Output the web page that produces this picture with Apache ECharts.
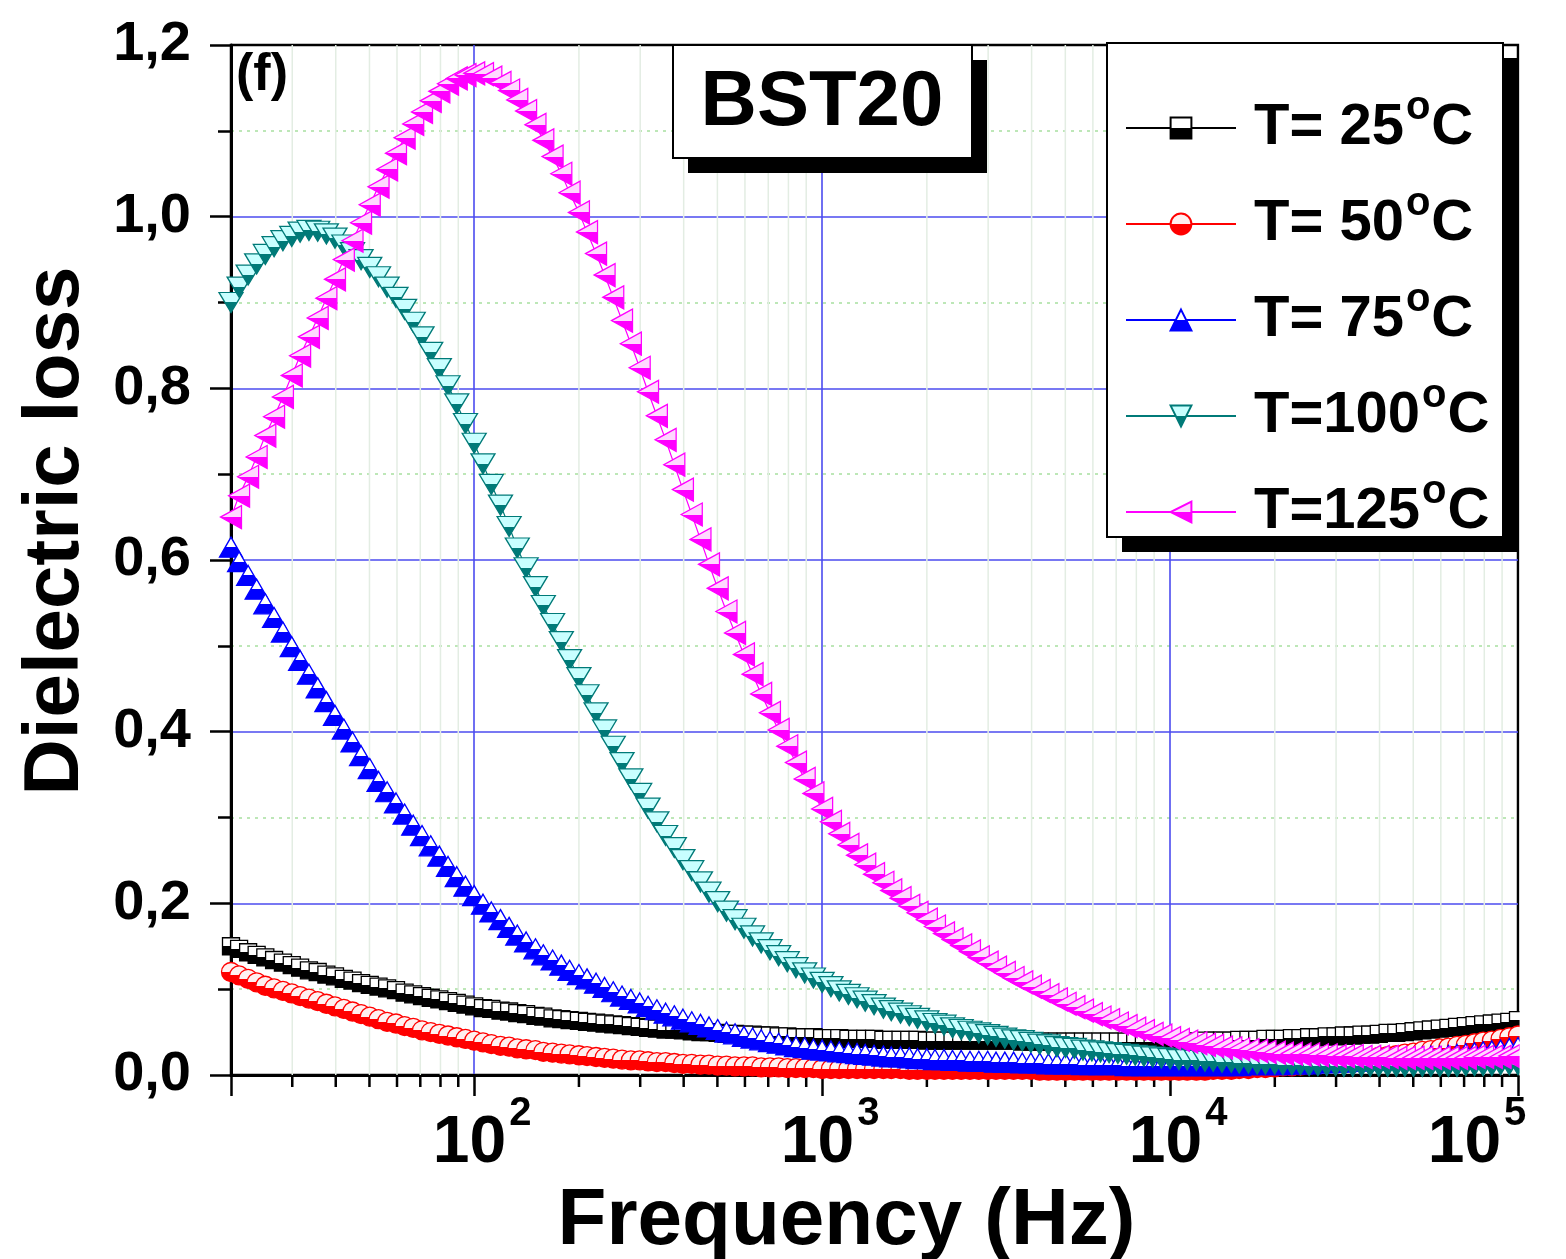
<!DOCTYPE html>
<html>
<head>
<meta charset="utf-8">
<script src="https://cdn.jsdelivr.net/npm/echarts@6/dist/echarts.min.js"></script>
<style>
html,body{margin:0;padding:0;background:#fff;}
#chart{width:1566px;height:1259px;}
</style>
</head>
<body>
<div id="chart"></div>
<script>
// ---------------- data ----------------
const freqHz = [
20,21.1,22.4,23.7,25.1,26.6,28.2,29.9,31.6,33.5,35.5,37.6,39.8,42.2,44.7,47.3,50.1,53.1,56.2,59.6,63.1,66.8,70.8,75,79.4,84.1,89.1,94.4,
100,106,112,119,126,133,141,150,158,168,178,188,200,211,224,237,251,266,282,299,316,335,355,376,398,422,447,473,501,531,562,596,631,668,708,750,794,841,891,944,
1000,1060,1120,1190,1260,1330,1410,1500,1580,1680,1780,1880,2000,2110,2240,2370,2510,2660,2820,2990,3160,3350,3550,3760,3980,4220,4470,4730,5010,5310,5620,5960,6310,6680,7080,7500,7940,8410,8910,9440,
10000,10600,11200,11900,12600,13300,14100,15000,15800,16800,17800,18800,20000,21100,22400,23700,25100,26600,28200,29900,31600,33500,35500,37600,39800,42200,44700,47300,50100,53100,56200,59600,63100,66800,70800,75000,79400,84100,89100,94400,
100000];

const loss25 = [
0.150,0.147,0.143,0.140,0.137,0.134,0.131,0.128,0.125,0.122,
0.120,0.117,0.115,0.112,0.110,0.107,0.105,0.103,0.101,0.099,
0.096,0.094,0.092,0.090,0.088,0.086,0.084,0.082,0.080,0.078,
0.077,0.075,0.074,0.072,0.071,0.069,0.068,0.066,0.065,0.064,
0.063,0.062,0.061,0.060,0.059,0.058,0.057,0.056,0.055,0.054,
0.053,0.053,0.052,0.051,0.050,0.050,0.049,0.048,0.048,0.047,
0.047,0.046,0.046,0.045,0.045,0.044,0.044,0.044,0.043,0.043,
0.043,0.042,0.042,0.042,0.042,0.041,0.041,0.041,0.041,0.041,
0.040,0.040,0.040,0.040,0.040,0.040,0.040,0.040,0.040,0.040,
0.040,0.039,0.039,0.039,0.039,0.039,0.039,0.039,0.039,0.039,
0.039,0.039,0.039,0.039,0.039,0.039,0.039,0.039,0.039,0.039,
0.039,0.039,0.040,0.040,0.040,0.040,0.041,0.041,0.041,0.042,
0.042,0.042,0.043,0.043,0.044,0.044,0.045,0.045,0.046,0.046,
0.047,0.047,0.048,0.049,0.049,0.050,0.051,0.052,0.053,0.054,
0.055,0.056,0.057,0.058,0.059,0.060,0.061,0.062,0.064];

const loss50 = [
0.120,0.116,0.112,0.108,0.104,0.101,0.098,0.095,0.092,0.089,
0.086,0.083,0.080,0.077,0.074,0.071,0.068,0.065,0.062,0.060,
0.057,0.055,0.052,0.050,0.048,0.046,0.044,0.042,0.040,0.038,
0.036,0.034,0.033,0.031,0.030,0.029,0.027,0.026,0.025,0.024,
0.023,0.022,0.021,0.020,0.019,0.018,0.017,0.017,0.016,0.015,
0.015,0.014,0.013,0.013,0.012,0.012,0.011,0.011,0.010,0.010,
0.010,0.009,0.009,0.009,0.008,0.008,0.008,0.008,0.007,0.007,
0.007,0.007,0.007,0.007,0.007,0.007,0.007,0.007,0.006,0.006,
0.006,0.006,0.006,0.006,0.006,0.006,0.006,0.006,0.006,0.006,
0.006,0.006,0.006,0.005,0.005,0.005,0.005,0.005,0.005,0.005,
0.005,0.005,0.005,0.005,0.005,0.005,0.005,0.005,0.005,0.005,
0.005,0.005,0.005,0.006,0.006,0.006,0.007,0.007,0.008,0.008,
0.009,0.010,0.010,0.011,0.012,0.013,0.014,0.015,0.016,0.017,
0.018,0.019,0.021,0.022,0.023,0.025,0.026,0.028,0.029,0.031,
0.032,0.034,0.035,0.037,0.039,0.040,0.042,0.044,0.046];

const loss75 = [
0.615,0.598,0.582,0.566,0.549,0.533,0.516,0.499,0.483,0.467,
0.451,0.435,0.419,0.403,0.388,0.372,0.357,0.342,0.330,0.317,
0.304,0.291,0.279,0.267,0.255,0.243,0.231,0.220,0.209,0.199,
0.190,0.181,0.172,0.163,0.155,0.147,0.140,0.134,0.128,0.122,
0.117,0.112,0.107,0.102,0.097,0.092,0.088,0.084,0.080,0.076,
0.072,0.069,0.065,0.062,0.059,0.056,0.053,0.050,0.048,0.045,
0.043,0.041,0.039,0.037,0.035,0.033,0.032,0.030,0.029,0.028,
0.027,0.026,0.025,0.024,0.023,0.022,0.021,0.021,0.020,0.019,
0.019,0.018,0.018,0.017,0.017,0.016,0.016,0.016,0.015,0.015,
0.015,0.014,0.014,0.014,0.013,0.013,0.013,0.013,0.012,0.012,
0.012,0.012,0.012,0.011,0.011,0.011,0.011,0.011,0.011,0.011,
0.011,0.011,0.011,0.011,0.011,0.011,0.011,0.012,0.012,0.012,
0.012,0.012,0.013,0.013,0.013,0.014,0.014,0.015,0.015,0.016,
0.016,0.017,0.017,0.018,0.019,0.019,0.020,0.021,0.022,0.022,
0.023,0.024,0.025,0.026,0.027,0.028,0.029,0.031,0.032];

const loss100 = [
0.900,0.918,0.932,0.945,0.956,0.965,0.972,0.977,0.982,0.984,
0.983,0.980,0.975,0.967,0.958,0.950,0.941,0.930,0.918,0.906,
0.892,0.877,0.860,0.842,0.823,0.803,0.782,0.759,0.736,0.712,
0.688,0.664,0.639,0.614,0.591,0.569,0.547,0.526,0.505,0.484,
0.463,0.443,0.422,0.402,0.383,0.364,0.345,0.328,0.311,0.295,
0.279,0.265,0.251,0.238,0.225,0.213,0.202,0.191,0.181,0.171,
0.162,0.154,0.146,0.139,0.132,0.125,0.119,0.113,0.108,0.103,
0.098,0.094,0.090,0.086,0.082,0.078,0.075,0.072,0.069,0.066,
0.063,0.060,0.058,0.055,0.053,0.051,0.049,0.047,0.045,0.043,
0.041,0.040,0.038,0.036,0.035,0.033,0.032,0.031,0.029,0.028,
0.027,0.026,0.025,0.024,0.023,0.022,0.021,0.020,0.019,0.018,
0.018,0.017,0.016,0.016,0.015,0.015,0.014,0.014,0.013,0.013,
0.013,0.012,0.012,0.012,0.011,0.011,0.011,0.011,0.010,0.010,
0.010,0.010,0.010,0.010,0.010,0.010,0.010,0.010,0.010,0.010,
0.010,0.010,0.011,0.011,0.011,0.011,0.012,0.012,0.012];

const loss125 = [
0.650,0.675,0.697,0.720,0.745,0.767,0.790,0.815,0.838,0.860,
0.882,0.905,0.927,0.950,0.972,0.993,1.014,1.035,1.055,1.074,
1.092,1.108,1.122,1.135,1.146,1.155,1.161,1.165,1.167,1.166,
1.162,1.156,1.147,1.136,1.123,1.107,1.089,1.070,1.050,1.028,
1.005,0.982,0.957,0.932,0.906,0.879,0.852,0.824,0.796,0.768,
0.740,0.711,0.682,0.653,0.624,0.595,0.567,0.540,0.515,0.490,
0.467,0.444,0.422,0.402,0.383,0.364,0.345,0.328,0.310,0.295,
0.281,0.268,0.256,0.245,0.234,0.224,0.215,0.206,0.197,0.189,
0.181,0.173,0.165,0.158,0.151,0.144,0.137,0.131,0.125,0.119,
0.113,0.108,0.103,0.098,0.093,0.088,0.083,0.079,0.075,0.071,
0.067,0.064,0.060,0.057,0.054,0.051,0.048,0.046,0.043,0.041,
0.039,0.037,0.035,0.034,0.032,0.031,0.030,0.029,0.028,0.027,
0.026,0.025,0.025,0.024,0.024,0.023,0.023,0.022,0.022,0.022,
0.021,0.021,0.021,0.021,0.020,0.020,0.020,0.020,0.020,0.020,
0.020,0.020,0.020,0.021,0.021,0.021,0.021,0.022,0.022];

const seriesNames = ['T= 25°C', 'T= 50°C', 'T= 75°C', 'T=100°C', 'T=125°C'];
const yTickValues = [0, 0.2, 0.4, 0.6, 0.8, 1.0, 1.2];
const minorFreqs = [30,40,50,60,70,80,90,200,300,400,500,600,700,800,900,
  2000,3000,4000,5000,6000,7000,8000,9000,20000,30000,40000,50000,60000,70000,80000,90000];

// ---------------- style ----------------
const FONT = '"Liberation Sans", Arial, Helvetica, sans-serif';
function half(top, bottom) {
  return {type: 'linear', x: 0, y: 0, x2: 0, y2: 1, colorStops: [
    {offset: 0, color: top}, {offset: 0.5, color: top},
    {offset: 0.5, color: bottom}, {offset: 1, color: bottom}]};
}
const SYM_DOWN = 'path://M0,0L10,0L5,9Z';
const SYM_LEFT = 'path://M10,0L10,10L0,5Z';
const styles = [
  {color: '#000000', light: '#ffffff', symbol: 'rect', size: 17},
  {color: '#ff0000', light: '#fff0f0', symbol: 'circle', size: 19},
  {color: '#0000ff', light: '#ffffff', symbol: 'triangle', size: [23, 20]},
  {color: '#007a78', light: '#c8ffff', symbol: SYM_DOWN, size: [24, 20]},
  {color: '#ff00ff', light: '#ffd8ff', symbol: SYM_LEFT, size: [21, 23]}
];
const values = [loss25, loss50, loss75, loss100, loss125];

const lineSeries = seriesNames.map((name, k) => ({
  name: name,
  type: 'line',
  data: freqHz.map((f, i) => [f, values[k][i]]),
  symbol: styles[k].symbol,
  symbolSize: styles[k].size,
  showSymbol: true,
  clip: true,
  z: 3,
  lineStyle: {color: styles[k].color, width: 1.2},
  itemStyle: {color: half(styles[k].light, styles[k].color), borderColor: styles[k].color, borderWidth: 1.3},
  emphasis: {disabled: true},
  animation: false
}));

const minorSeries = {
  type: 'custom',
  coordinateSystem: 'cartesian2d',
  data: minorFreqs.map(f => [f]),
  encode: {x: 0},
  silent: true,
  clip: false,
  z: 1,
  animation: false,
  renderItem: function (params, api) {
    const f = api.value(0);
    const b = api.coord([f, 0]);
    const t = api.coord([f, 1.2]);
    return {type: 'group', children: [
      {type: 'line', shape: {x1: b[0], y1: b[1], x2: t[0], y2: t[1]},
        style: {stroke: '#e3ede3', lineWidth: 1.5}},
      {type: 'line', shape: {x1: b[0], y1: b[1], x2: b[0], y2: b[1] + 12},
        style: {stroke: '#000', lineWidth: 2.5}}
    ]};
  }
};

const chart = echarts.init(document.getElementById('chart'), null, {renderer: 'canvas'});
chart.setOption({
  animation: false,
  backgroundColor: '#fff',
  grid: {left: 231, right: 48, top: 45, bottom: 184, show: true, borderColor: '#000', borderWidth: 2.5,
         containLabel: false, outerBoundsMode: 'none'},
  xAxis: {
    type: 'log', logBase: 10, min: 20, max: 100000,
    name: 'Frequency (Hz)', nameLocation: 'middle', nameGap: 93,
    nameTextStyle: {fontSize: 80, fontWeight: 'bold', fontFamily: FONT, color: '#000', padding: [0, 56, 0, 0]},
    axisLine: {show: true, onZero: false, lineStyle: {color: '#000', width: 3}},
    axisTick: {show: true, inside: false, length: 21, lineStyle: {color: '#000', width: 2.5}},
    splitLine: {show: true, showMinLine: false, showMaxLine: false, lineStyle: {color: '#4b4bef', width: 1.6}},
    minorTick: {show: false}, minorSplitLine: {show: false},
    axisLabel: {
      margin: 19,
      formatter: function (v) {
        const e = Math.round(Math.log10(v));
        if (Math.abs(Math.pow(10, e) - v) > 1e-6 * v) return '';
        return '{b|10}{s|' + e + '}' + (e === 5 ? '{pad|}' : '');
      },
      rich: {
        b: {fontSize: 66, fontWeight: 'bold', fontFamily: FONT, color: '#000', lineHeight: 100, padding: [0, 0, 0, 16]},
        s: {fontSize: 40, fontWeight: 'bold', fontFamily: FONT, color: '#000', lineHeight: 40, verticalAlign: 'top', padding: [0, 0, 0, 3]},
        pad: {width: 98}
      }
    }
  },
  yAxis: {
    type: 'value', min: 0, max: 1.2, interval: 0.2,
    name: 'Dielectric loss', nameLocation: 'middle', nameGap: 136,
    nameTextStyle: {fontSize: 78, fontWeight: 'bold', fontFamily: FONT, color: '#000', padding: [0, 0, 0, 58]},
    axisLine: {show: true, lineStyle: {color: '#000', width: 3}},
    axisTick: {show: true, inside: false, length: 21, lineStyle: {color: '#000', width: 2.5}},
    minorTick: {show: true, splitNumber: 2, length: 13, lineStyle: {color: '#000', width: 2.5}},
    splitLine: {show: true, showMinLine: false, showMaxLine: false, lineStyle: {color: '#4b4bef', width: 1.6}},
    minorSplitLine: {show: true, lineStyle: {color: '#a8e0a0', width: 1.5, type: [3, 5]}},
    axisLabel: {
      margin: 40, fontSize: 56, fontWeight: 'bold', fontFamily: FONT, color: '#000',
      formatter: v => (yTickValues.some(t => Math.abs(t - v) < 1e-9) ? v.toFixed(1).replace('.', ',') : '')
    }
  },
  legend: {
    data: seriesNames,
    orient: 'vertical', left: 1125, top: 88, padding: 0,
    itemWidth: 110, itemHeight: 26, itemGap: 27,
    selectedMode: false, z: 6,
    formatter: function (name) {
      const base = name.replace('°C', '');
      return '{t|' + base + '}{o|o}{c|C}';
    },
    textStyle: {
      fontSize: 58, fontWeight: 'bold', fontFamily: FONT, color: '#000',
      rich: {
        t: {fontSize: 58, fontWeight: 'bold', fontFamily: FONT, color: '#000', lineHeight: 80, padding: [0, 0, 0, 13]},
        o: {fontSize: 40, fontFamily: FONT, color: '#000', lineHeight: 40, verticalAlign: 'top', padding: [0, 1, 0, 2]},
        c: {fontSize: 58, fontWeight: 'bold', fontFamily: FONT, color: '#000', lineHeight: 80}
      }
    }
  },
  graphic: [
    {type: 'rect', shape: {x: 1519.6, y: 30, width: 50, height: 1046}, style: {fill: '#fff'}, z: 4},
    {type: 'text', left: 236, top: 50, z: 5,
      style: {text: '(f)', font: 'bold 52px ' + FONT, fill: '#000'}},
    {type: 'rect', shape: {x: 688, y: 60, width: 299, height: 113}, style: {fill: '#000'}, z: 5},
    {type: 'rect', shape: {x: 673, y: 45, width: 299, height: 113}, style: {fill: '#fff', stroke: '#000', lineWidth: 2}, z: 5},
    {type: 'text', x: 822, y: 103, z: 5,
      style: {text: 'BST20', font: 'bold 78px ' + FONT, fill: '#000', textAlign: 'center', textVerticalAlign: 'middle'}},
    {type: 'rect', shape: {x: 1122, y: 58, width: 396, height: 494}, style: {fill: '#000'}, z: 5},
    {type: 'rect', shape: {x: 1107, y: 43, width: 396, height: 494}, style: {fill: '#fff', stroke: '#000', lineWidth: 2}, z: 5}
  ],
  series: [minorSeries].concat(lineSeries)
});
</script>
</body>
</html>
